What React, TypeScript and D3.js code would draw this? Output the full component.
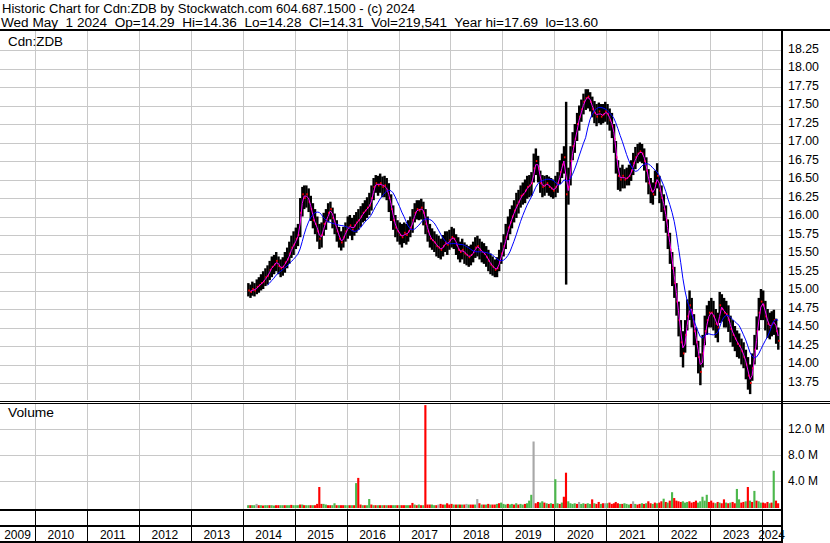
import React, { useEffect, useRef } from 'react'
import * as d3 from 'd3'

// header lines
const title = 'Historic Chart for Cdn:ZDB by Stockwatch.com 604.687.1500 - (c) 2024'
const subtitle = 'Wed May  1 2024  Op=14.29  Hi=14.36  Lo=14.28  Cl=14.31  Vol=219,541  Year hi=17.69  lo=13.60'

const years = ['2009', '2010', '2011', '2012', '2013', '2014', '2015', '2016', '2017', '2018', '2019', '2020', '2021', '2022', '2023', '2024']
const priceTicks = [18.25, 18.0, 17.75, 17.5, 17.25, 17.0, 16.75, 16.5, 16.25, 16.0, 15.75, 15.5, 15.25, 15.0, 14.75, 14.5, 14.25, 14.0, 13.75]
const volumeTicks = [4, 8, 12]
const volumeTickLabels = ['4.0 M', '8.0 M', '12.0 M']

// semi-monthly bars, first one is Feb 1 2014 (one row per year)
const closes = [
  15.00, 14.98, 15.02, 15.00, 15.05, 15.07, 15.10, 15.12, 15.18, 15.20, 15.28, 15.32, 15.35, 15.40, 15.33, 15.30, 15.32, 15.38, 15.42, 15.50, 15.58, 15.62,
  15.70, 15.75, 16.05, 16.30, 16.25, 16.30, 16.20, 16.10, 15.95, 15.90, 15.80, 15.70, 15.75, 15.90, 15.95, 16.05, 16.10, 15.98, 15.90, 15.80, 15.70, 15.65, 15.72, 15.80,
  15.85, 15.88, 15.82, 15.88, 15.92, 15.95, 16.00, 16.05, 16.08, 16.12, 16.15, 16.25, 16.40, 16.45, 16.42, 16.45, 16.40, 16.42, 16.35, 16.25, 16.10, 15.95, 15.85, 15.80,
  15.75, 15.72, 15.78, 15.75, 15.80, 15.85, 15.95, 16.05, 16.10, 16.08, 16.12, 16.05, 15.90, 15.80, 15.70, 15.68, 15.65, 15.60, 15.58, 15.55, 15.60, 15.65, 15.62, 15.68,
  15.72, 15.70, 15.62, 15.55, 15.52, 15.55, 15.50, 15.48, 15.45, 15.48, 15.52, 15.58, 15.60, 15.55, 15.52, 15.50, 15.45, 15.40, 15.35, 15.32, 15.28, 15.30, 15.40, 15.50,
  15.60, 15.72, 15.85, 15.92, 16.00, 16.08, 16.15, 16.20, 16.28, 16.30, 16.35, 16.40, 16.42, 16.45, 16.65, 16.75, 16.65, 16.45, 16.40, 16.42, 16.45, 16.40, 16.38, 16.35,
  16.40, 16.45, 16.60, 16.70, 16.80, 16.30, 16.40, 16.75, 16.95, 17.05, 17.25, 17.35, 17.45, 17.55, 17.60, 17.62, 17.55, 17.45, 17.40, 17.35, 17.42, 17.35, 17.38, 17.42,
  17.38, 17.30, 17.22, 17.05, 16.80, 16.55, 16.50, 16.55, 16.50, 16.52, 16.55, 16.62, 16.72, 16.80, 16.85, 16.88, 16.85, 16.75, 16.62, 16.45, 16.35, 16.30, 16.45, 16.55,
  16.35, 16.25, 16.10, 15.95, 15.75, 15.55, 15.30, 15.10, 14.85, 14.60, 14.30, 14.15, 14.40, 14.65, 14.80, 14.70, 14.45, 14.30, 14.10, 13.90, 14.15, 14.45, 14.60, 14.70,
  14.70, 14.65, 14.55, 14.50, 14.80, 14.75, 14.70, 14.68, 14.60, 14.48, 14.40, 14.35, 14.28, 14.25, 14.18, 14.10, 14.00, 13.85, 13.75, 13.95, 14.20, 14.45, 14.70, 14.85,
  14.80, 14.65, 14.55, 14.50, 14.55, 14.60, 14.45, 14.32,
]
const highs = [
  15.10, 15.08, 15.12, 15.10, 15.15, 15.18, 15.22, 15.26, 15.30, 15.34, 15.40, 15.46, 15.48, 15.52, 15.46, 15.42, 15.45, 15.52, 15.58, 15.66, 15.74, 15.80,
  15.85, 15.90, 16.25, 16.40, 16.42, 16.42, 16.38, 16.28, 16.18, 16.10, 16.00, 15.90, 15.92, 16.05, 16.10, 16.18, 16.20, 16.12, 16.04, 15.95, 15.86, 15.80, 15.86, 15.92,
  16.00, 16.02, 15.98, 16.02, 16.06, 16.10, 16.14, 16.18, 16.22, 16.26, 16.32, 16.42, 16.52, 16.56, 16.55, 16.58, 16.54, 16.55, 16.52, 16.45, 16.30, 16.15, 16.02, 15.95,
  15.92, 15.90, 15.92, 15.90, 15.95, 16.00, 16.10, 16.18, 16.22, 16.22, 16.24, 16.20, 16.10, 16.00, 15.90, 15.84, 15.80, 15.76, 15.74, 15.70, 15.75, 15.80, 15.80, 15.82,
  15.86, 15.84, 15.76, 15.72, 15.66, 15.70, 15.65, 15.62, 15.60, 15.62, 15.66, 15.72, 15.74, 15.70, 15.66, 15.64, 15.60, 15.55, 15.50, 15.46, 15.42, 15.45, 15.55, 15.65,
  15.76, 15.90, 16.00, 16.10, 16.15, 16.22, 16.32, 16.36, 16.42, 16.46, 16.50, 16.55, 16.56, 16.60, 16.85, 16.92, 16.82, 16.62, 16.56, 16.55, 16.56, 16.54, 16.52, 16.50,
  16.55, 16.60, 16.76, 16.85, 16.95, 17.55, 16.66, 16.95, 17.14, 17.25, 17.40, 17.50, 17.58, 17.66, 17.72, 17.72, 17.68, 17.62, 17.56, 17.52, 17.54, 17.52, 17.52, 17.55,
  17.52, 17.46, 17.40, 17.25, 17.02, 16.76, 16.66, 16.70, 16.64, 16.66, 16.70, 16.76, 16.86, 16.94, 16.98, 17.00, 16.98, 16.92, 16.80, 16.64, 16.52, 16.46, 16.62, 16.72,
  16.55, 16.42, 16.30, 16.15, 15.96, 15.78, 15.52, 15.32, 15.10, 14.85, 14.60, 14.45, 14.60, 14.88, 15.00, 14.90, 14.68, 14.50, 14.32, 14.15, 14.40, 14.66, 14.80, 14.86,
  14.90, 14.86, 14.75, 14.70, 14.98, 14.95, 14.90, 14.86, 14.80, 14.66, 14.60, 14.52, 14.46, 14.42, 14.35, 14.30, 14.20, 14.10, 14.00, 14.15, 14.40, 14.65, 14.90, 15.02,
  15.00, 14.86, 14.75, 14.70, 14.72, 14.74, 14.62, 14.50,
]
const lows = [
  14.92, 14.90, 14.93, 14.92, 14.95, 14.97, 15.00, 15.02, 15.06, 15.08, 15.14, 15.18, 15.22, 15.26, 15.22, 15.18, 15.20, 15.24, 15.30, 15.36, 15.44, 15.48,
  15.56, 15.60, 15.72, 16.00, 16.10, 16.12, 16.06, 15.94, 15.84, 15.76, 15.66, 15.56, 15.58, 15.74, 15.82, 15.92, 15.96, 15.84, 15.76, 15.66, 15.58, 15.54, 15.58, 15.66,
  15.70, 15.74, 15.68, 15.74, 15.78, 15.82, 15.86, 15.92, 15.94, 15.98, 16.02, 16.08, 16.22, 16.32, 16.28, 16.32, 16.26, 16.26, 16.22, 16.06, 15.94, 15.82, 15.72, 15.66,
  15.62, 15.58, 15.64, 15.62, 15.66, 15.72, 15.78, 15.92, 15.96, 15.95, 15.96, 15.88, 15.76, 15.66, 15.58, 15.55, 15.52, 15.46, 15.44, 15.42, 15.46, 15.52, 15.48, 15.55,
  15.58, 15.56, 15.48, 15.42, 15.38, 15.42, 15.36, 15.34, 15.32, 15.34, 15.38, 15.44, 15.46, 15.42, 15.38, 15.36, 15.32, 15.26, 15.22, 15.20, 15.18, 15.18, 15.26, 15.36,
  15.46, 15.56, 15.68, 15.76, 15.84, 15.92, 15.98, 16.04, 16.12, 16.16, 16.18, 16.24, 16.26, 16.28, 16.46, 16.56, 16.46, 16.32, 16.26, 16.28, 16.32, 16.28, 16.26, 16.24,
  16.26, 16.32, 16.44, 16.52, 16.58, 15.08, 16.16, 16.42, 16.76, 16.86, 17.02, 17.16, 17.28, 17.38, 17.44, 17.46, 17.42, 17.34, 17.26, 17.22, 17.26, 17.24, 17.26, 17.28,
  17.24, 17.16, 17.06, 16.86, 16.58, 16.36, 16.34, 16.38, 16.38, 16.42, 16.42, 16.48, 16.56, 16.64, 16.72, 16.74, 16.72, 16.62, 16.46, 16.30, 16.18, 16.16, 16.28, 16.38,
  16.18, 16.06, 15.94, 15.78, 15.56, 15.36, 15.06, 14.90, 14.66, 14.38, 14.10, 13.96, 14.16, 14.46, 14.60, 14.50, 14.26, 14.10, 13.88, 13.72, 13.96, 14.26, 14.40, 14.50,
  14.50, 14.46, 14.36, 14.30, 14.56, 14.58, 14.50, 14.50, 14.44, 14.30, 14.24, 14.18, 14.10, 14.08, 14.00, 13.95, 13.80, 13.66, 13.60, 13.78, 14.00, 14.20, 14.46, 14.60,
  14.60, 14.46, 14.36, 14.34, 14.38, 14.40, 14.28, 14.20,
]
// volume in millions, same periods
const volumes = [
  0.2, 0.2, 0.2, 0.2, 0.4, 0.2, 0.2, 0.15, 0.2, 0.2, 0.2, 0.2, 0.15, 0.2, 0.2, 0.2, 0.2, 0.2, 0.2, 0.2, 0.25, 0.2,
  0.2, 0.2, 0.3, 0.3, 0.2, 0.2, 0.2, 0.2, 0.2, 0.2, 0.4, 3.0, 0.4, 0.4, 0.3, 0.2, 0.2, 0.2, 0.5, 0.2, 0.2, 0.2, 0.2, 0.2,
  0.2, 0.2, 0.2, 0.2, 3.6, 4.4, 0.3, 0.2, 0.2, 0.2, 1.15, 0.3, 0.2, 0.2, 0.2, 0.2, 0.2, 0.2, 0.2, 0.2, 0.2, 0.2, 0.2, 0.2,
  0.2, 0.2, 0.2, 0.2, 0.2, 0.2, 0.55, 0.3, 0.2, 0.3, 0.2, 0.2, 15.6, 0.3, 0.3, 0.3, 0.2, 0.2, 0.3, 0.4, 0.3, 0.3, 0.5, 0.3,
  0.4, 0.3, 0.3, 0.3, 0.3, 0.3, 0.3, 0.4, 0.3, 0.3, 0.3, 0.3, 1.15, 0.5, 0.3, 0.3, 0.3, 0.4, 0.3, 0.3, 0.3, 0.4, 0.5, 0.6,
  0.4, 0.3, 0.4, 0.3, 0.4, 0.3, 0.5, 0.3, 0.4, 0.3, 0.4, 0.5, 0.9, 1.8, 10.0, 0.5, 0.7, 0.6, 0.8, 0.6, 0.5, 0.4, 0.5, 0.4,
  4.2, 0.5, 0.4, 0.6, 1.5, 5.2, 0.8, 0.5, 0.4, 0.5, 0.4, 0.7, 0.4, 0.5, 0.4, 0.5, 0.4, 1.1, 0.5, 0.4, 0.7, 0.4, 0.5, 0.5,
  0.5, 0.6, 0.4, 0.5, 0.7, 0.5, 0.4, 0.4, 0.5, 0.4, 0.3, 0.4, 0.8, 0.4, 0.3, 0.4, 0.5, 0.4, 0.5, 0.8, 0.5, 0.4, 0.6, 0.5,
  0.6, 0.8, 1.2, 0.7, 0.6, 0.9, 2.2, 1.3, 0.9, 0.8, 0.7, 0.8, 0.6, 0.7, 0.8, 0.6, 0.7, 0.9, 0.6, 0.8, 1.5, 0.9, 1.8, 0.7,
  0.9, 0.6, 0.5, 0.7, 0.6, 0.5, 1.1, 0.6, 0.5, 0.6, 0.7, 0.5, 2.7, 1.1, 0.6, 0.7, 0.8, 3.0, 0.9, 0.7, 2.4, 0.9, 0.8, 0.6,
  0.6, 0.5, 0.7, 0.5, 0.6, 5.5, 0.9, 0.5,
]
// u = up day (green), d = down (red), n = unchanged (gray)
const volumeDirs = [
  'uduu ndud uudu uddu uduu du',
  'uudu duud uddd duud duud uddu',
  'udud uddu duud udud udud duud',
  'uddu uddu dudu dddu udnd dudd',
  'dudu dudn uddu ndud udud dudu',
  'uudu udud uudu uund duud udud',
  'uudu dduu uudn uudu udud dudn',
  'uddd ddud uuud nudd udud dudu',
  'ddud udud dddu uudd dduu uuud',
  'ddud uddu dudd uudd udud uduu',
  'dddu dudd',
].join('').replace(/ /g, '')

const fastWindow = 2 // ~20 day
const slowWindow = 10 // ~100 day

const movingAvg = (vals: number[], n: number) =>
  vals.map((_, i) => (i < n - 1 ? null : (d3.mean(vals.slice(i - n + 1, i + 1)) as number)))

export default function App() {
  const ref = useRef<SVGSVGElement>(null)

  useEffect(() => {
    const W = 830
    const H = 543
    const plotRight = 781
    const priceTop = 31
    const priceBottom = 400
    const volTop = 404
    const volBottom = 509
    const font = 'Liberation Sans, Arial, sans-serif'

    const svg = d3.select(ref.current)
    svg.selectAll('*').remove()
    svg.append('rect').attr('width', W).attr('height', H).attr('fill', '#fff')

    const x = d3.scaleTime().domain([new Date(2010, 0, 1), new Date(2024, 0, 1)]).range([35, 762])
    const y = d3.scaleLinear().domain([13.75, 18.25]).range([383, 50])
    const yVol = d3.scaleLinear().domain([0, 16]).range([506.5, 402.5])

    const dates = closes.map((_, i) => new Date(2014, 1 + Math.floor(i / 2), i % 2 ? 16 : 1))
    const step = x(dates[1]) - x(dates[0])
    const yearStarts = years.slice(1).map(yr => x(new Date(+yr, 0, 1)))

    const grid = svg.append('g').attr('stroke', '#c8c8c8').attr('shape-rendering', 'crispEdges')
    priceTicks.forEach(t => {
      grid.append('line').attr('x1', 0).attr('x2', plotRight).attr('y1', Math.round(y(t)) + 0.5).attr('y2', Math.round(y(t)) + 0.5)
    })
    volumeTicks.forEach(t => {
      grid.append('line').attr('x1', 0).attr('x2', plotRight).attr('y1', Math.round(yVol(t)) + 0.5).attr('y2', Math.round(yVol(t)) + 0.5)
    })
    yearStarts.forEach(xx => {
      const px = Math.round(xx) + 0.5
      grid.append('line').attr('x1', px).attr('x2', px).attr('y1', priceTop).attr('y2', priceBottom)
      grid.append('line').attr('x1', px).attr('x2', px).attr('y1', volTop).attr('y2', volBottom)
    })

    // price bars
    const bars = svg.append('g')
    bars.selectAll('rect.hl')
      .data(dates).enter()
      .append('rect')
      .attr('x', d => x(d))
      .attr('width', step + 0.3)
      .attr('y', (d, i) => y(highs[i]))
      .attr('height', (d, i) => Math.max(1, y(lows[i]) - y(highs[i])))
      .attr('fill', '#000')
    bars.selectAll('rect.cl')
      .data(dates).enter()
      .append('rect')
      .attr('x', d => x(d) + step - 1)
      .attr('width', 1.5)
      .attr('y', (d, i) => y(closes[i]) - 1)
      .attr('height', 2)
      .attr('fill', '#ff0000')

    const line = d3.line<number | null>()
      .defined(v => v != null)
      .x((v, i) => x(dates[i]) + step / 2)
      .y(v => y(v as number))
    svg.append('path').attr('d', line(movingAvg(closes, fastWindow)))
      .attr('fill', 'none').attr('stroke', '#ff00ff').attr('stroke-width', 1)
    svg.append('path').attr('d', line(movingAvg(closes, slowWindow)))
      .attr('fill', 'none').attr('stroke', '#0000ff').attr('stroke-width', 1)

    // volume bars
    const volColor: Record<string, string> = { u: '#4cb84c', d: '#ff0000', n: '#a8a8a8' }
    svg.append('g').selectAll('rect')
      .data(volumes).enter()
      .append('rect')
      .attr('x', (v, i) => x(dates[i]))
      .attr('width', step)
      .attr('y', v => yVol(v))
      .attr('height', v => 508 - yVol(v))
      .attr('fill', (v, i) => volColor[volumeDirs[i]] || '#ff0000')

    // frame
    const black = (xx: number, yy: number, w: number, h: number) =>
      svg.append('rect').attr('x', xx).attr('y', yy).attr('width', w).attr('height', h).attr('fill', '#000')
    black(0, 29, W, 2)
    black(0, 401, W, 1)
    black(0, 403, W, 1)
    black(0, 509, plotRight + 2, 2)
    black(0, 525, plotRight + 2, 2)
    black(0, 541, plotRight + 2, 2)
    black(plotRight, 29, 2, H - 29)
    yearStarts.forEach(xx => black(Math.round(xx), 511, 1, 30))

    const text = (s: string, xx: number, yy: number, anchor = 'start', len = 0) => {
      const t = svg.append('text').attr('x', xx).attr('y', yy).attr('text-anchor', anchor)
        .attr('font-family', font).attr('font-size', 12).attr('fill', '#000')
        .style('white-space', 'pre').text(s)
      if (len) t.attr('textLength', len).attr('lengthAdjust', 'spacingAndGlyphs')
      return t
    }

    text(title, 2, 13, 'start', 413)
    text(subtitle, 1, 26.5, 'start', 597)
    text('Cdn:ZDB', 8, 46, 'start', 55)
    text('Volume', 8, 417, 'start', 46)

    priceTicks.forEach(t => text(t.toFixed(2), 788, y(t) + 2.6, 'start', 31))
    volumeTicks.forEach((t, i) => text(volumeTickLabels[i], 788, yVol(t) + 4.3))

    const bounds = [0, ...yearStarts, plotRight]
    years.forEach((yr, i) => {
      const cx = (bounds[i] + bounds[i + 1]) / 2
      text(yr, cx, 538.5, 'middle')
    })
  }, [])

  return <svg ref={ref} width={830} height={543} style={{ position: 'absolute', left: 0, top: 0, display: 'block' }} />
}
